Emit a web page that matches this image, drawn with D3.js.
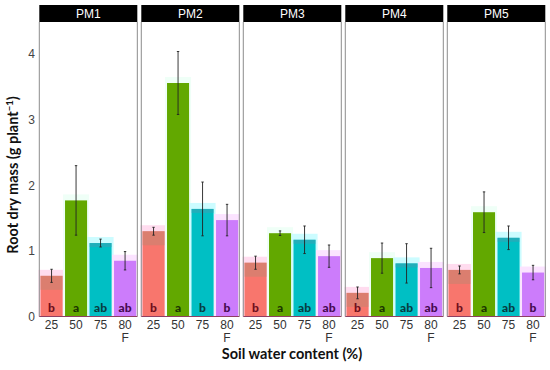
<!DOCTYPE html>
<html>
<head>
<meta charset="utf-8">
<script src="https://cdn.jsdelivr.net/npm/d3@7"></script>
<style>
  body { margin: 0; background: #fff; }
  svg { display: block; }
</style>
</head>
<body>
<svg id="chart" width="550" height="370"></svg>
<script>
// data
var panels = ["PM1", "PM2", "PM3", "PM4", "PM5"];
var levels = ["25", "50", "75", "80F"];
var means = [
  [0.62, 1.77, 1.12, 0.85],
  [1.30, 3.56, 1.64, 1.47],
  [0.82, 1.27, 1.17, 0.92],
  [0.36, 0.89, 0.81, 0.74],
  [0.71, 1.59, 1.20, 0.67]
];
var errs = [
  [0.10, 0.53, 0.06, 0.14],
  [0.06, 0.48, 0.41, 0.24],
  [0.10, 0.035, 0.21, 0.17],
  [0.09, 0.23, 0.30, 0.30],
  [0.06, 0.31, 0.18, 0.11]
];
var letters = [
  ["b", "a", "ab", "ab"],
  ["b", "a", "b", "b"],
  ["b", "a", "ab", "ab"],
  ["b", "a", "ab", "ab"],
  ["b", "a", "ab", "b"]
];
var yTicks = [0, 1, 2, 3, 4];

var fills = ["#f8766d", "#62a800", "#00bfc4", "#cc7cfb"];
var halos = ["#ffdcef", "#effff7", "#ccfcff", "#fbe3ff"];
var inks = ["#6e0f1c", "#1c3500", "#073c40", "#45094f"];

var svg = d3.select("#chart");
var plotTop = 22, plotBottom = 316.5;

var y = d3.scaleLinear().domain([0, 4.49]).range([plotBottom, plotTop]);
var px = d3.scaleBand().domain(panels).range([39.3, 545.3]).paddingInner(0.039).paddingOuter(0);
var x = d3.scaleBand().domain(levels).range([0, px.bandwidth()]).paddingInner(0.1).paddingOuter(0.05);

// y axis labels
svg.append("g").selectAll("text")
  .data(yTicks)
  .enter()
  .append("text")
  .attr("x", 35)
  .attr("y", function (d) { return y(d); })
  .attr("dy", "0.36em")
  .attr("text-anchor", "end")
  .attr("font-family", "Liberation Sans, Arial, sans-serif")
  .attr("font-size", 12)
  .attr("fill", "#444")
  .text(function (d) { return d; });

var data = [];
panels.forEach(function (p, i) {
  levels.forEach(function (l, j) {
    data.push({panel: p, level: l, j: j, m: means[i][j], e: errs[i][j], lab: letters[i][j]});
  });
});

var g = svg.selectAll("g.panel")
  .data(panels)
  .enter()
  .append("g")
  .attr("class", "panel")
  .attr("transform", function (d) { return "translate(" + px(d) + ",0)"; });

// strips
g.append("rect")
  .attr("x", 0).attr("y", 5)
  .attr("width", px.bandwidth()).attr("height", plotTop - 5)
  .attr("fill", "#000");
g.append("text")
  .attr("x", px.bandwidth() / 2).attr("y", 14)
  .attr("dy", "0.36em")
  .attr("text-anchor", "middle")
  .attr("font-family", "Liberation Sans, Arial, sans-serif")
  .attr("font-size", 12)
  .attr("fill", "#fff")
  .text(function (d) { return d; });

g.each(function (p) {
  var pg = d3.select(this);
  var rows = data.filter(function (d) { return d.panel == p; });

  // faint halos behind bars
  pg.selectAll("rect.halo")
    .data(rows)
    .enter()
    .append("rect")
    .attr("class", "halo")
    .attr("x", function (d) { return x(d.level) - 2; })
    .attr("y", function (d) { return y(d.m) - 6; })
    .attr("width", x.bandwidth() + 4)
    .attr("height", function (d) { return plotBottom - y(d.m) + 6; })
    .attr("fill", function (d) { return halos[d.j]; });

  pg.selectAll("rect.bar")
    .data(rows)
    .enter()
    .append("rect")
    .attr("class", "bar")
    .attr("x", function (d) { return x(d.level); })
    .attr("y", function (d) { return y(d.m); })
    .attr("width", x.bandwidth())
    .attr("height", function (d) { return plotBottom - y(d.m); })
    .attr("fill", function (d) { return fills[d.j]; });

  // darker top band on the red and cyan bars
  pg.selectAll("rect.shade")
    .data(rows.filter(function (d) { return d.j == 0 || d.j == 2; }))
    .enter()
    .append("rect")
    .attr("class", "shade")
    .attr("x", function (d) { return x(d.level); })
    .attr("y", function (d) { return y(d.m); })
    .attr("width", x.bandwidth())
    .attr("height", function (d) { return Math.min(plotBottom - y(d.m), d.j == 0 ? 14 : 4); })
    .attr("fill", function (d) { return d.j == 0 ? "#b98a70" : "#4a9ab0"; })
    .attr("opacity", 0.45);

  // error bars
  var eb = pg.selectAll("g.err")
    .data(rows)
    .enter()
    .append("g")
    .attr("class", "err")
    .attr("stroke", "#222")
    .attr("stroke-width", 0.9);
  eb.append("line")
    .attr("x1", function (d) { return x(d.level) + x.bandwidth() / 2; })
    .attr("x2", function (d) { return x(d.level) + x.bandwidth() / 2; })
    .attr("y1", function (d) { return y(d.m + d.e); })
    .attr("y2", function (d) { return y(d.m - d.e); });
  eb.selectAll("line.cap")
    .data(function (d) { return [d.m + d.e, d.m - d.e].map(function (v) { return {v: v, d: d}; }); })
    .enter()
    .append("line")
    .attr("class", "cap")
    .attr("x1", function (c) { return x(c.d.level) + x.bandwidth() / 2 - 1.2; })
    .attr("x2", function (c) { return x(c.d.level) + x.bandwidth() / 2 + 1.2; })
    .attr("y1", function (c) { return y(c.v); })
    .attr("y2", function (c) { return y(c.v); });

  // significance letters
  pg.selectAll("text.let")
    .data(rows)
    .enter()
    .append("text")
    .attr("class", "let")
    .attr("x", function (d) { return x(d.level) + x.bandwidth() / 2; })
    .attr("y", 311.5)
    .attr("text-anchor", "middle")
    .attr("font-family", "Lato, Open Sans, sans-serif")
    .attr("font-weight", 900)
    .attr("font-size", 12)
    .attr("fill", function (d) { return inks[d.j]; })
    .text(function (d) { return d.lab; });

  // x tick labels
  var xt = pg.selectAll("text.tick")
    .data(levels)
    .enter()
    .append("text")
    .attr("class", "tick")
    .attr("x", function (d) { return x(d) + x.bandwidth() / 2; })
    .attr("y", 329)
    .attr("text-anchor", "middle")
    .attr("font-family", "Liberation Sans, Arial, sans-serif")
    .attr("font-size", 12)
    .attr("fill", "#333");
  xt.append("tspan")
    .attr("x", function (d) { return x(d) + x.bandwidth() / 2; })
    .text(function (d) { return d.replace("F", ""); });
  xt.filter(function (d) { return d.indexOf("F") >= 0; })
    .append("tspan")
    .attr("x", function (d) { return x(d) + x.bandwidth() / 2; })
    .attr("dy", 12.5)
    .text("F");

  // panel frame
  pg.append("line")
    .attr("x1", 0).attr("x2", 0).attr("y1", plotTop).attr("y2", plotBottom)
    .attr("stroke", "#8c8c8c").attr("stroke-width", 1);
  pg.append("line")
    .attr("x1", px.bandwidth()).attr("x2", px.bandwidth()).attr("y1", plotTop).attr("y2", plotBottom)
    .attr("stroke", "#8c8c8c").attr("stroke-width", 1);
  pg.append("line")
    .attr("x1", 0).attr("x2", px.bandwidth()).attr("y1", plotBottom).attr("y2", plotBottom)
    .attr("stroke", "#8e3f62").attr("stroke-width", 1.2);
});

// axis titles
svg.append("text")
  .attr("x", 292).attr("y", 359)
  .attr("text-anchor", "middle")
  .attr("font-family", "Lato, Open Sans, sans-serif")
  .attr("font-weight", "bold")
  .attr("font-size", 14.5)
  .attr("fill", "#111")
  .text("Soil water content (%)");

var yt = svg.append("text")
  .attr("transform", "translate(18,175) rotate(-90)")
  .attr("text-anchor", "middle")
  .attr("font-family", "Lato, Open Sans, sans-serif")
  .attr("font-weight", "bold")
  .attr("font-size", 14.5)
  .attr("fill", "#111");
yt.append("tspan").text("Root dry mass (g plant");
yt.append("tspan").attr("dy", -5).attr("font-size", 9.5).text("\u22121");
yt.append("tspan").attr("dy", 5).text(")");
</script>
</body>
</html>
